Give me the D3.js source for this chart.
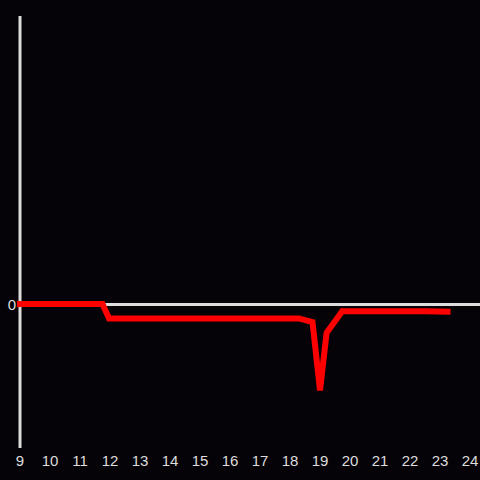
<!DOCTYPE html>
<html><head><meta charset="utf-8">
<script src="https://cdn.jsdelivr.net/npm/d3@7"></script>
<style>html,body{margin:0;padding:0;background:#050308;}svg{display:block;}</style>
</head><body>
<svg id="c" width="480" height="480"></svg>
<script>
const hours = [8.9, 11.75, 11.97, 18.2, 18.3, 18.75, 19.0, 19.22, 19.74, 22.5, 23.35];
const values = [0, 0, -0.1, -0.1, -0.1, -0.125, -0.6, -0.2, -0.05, -0.05, -0.053];
const xTicks = [9,10,11,12,13,14,15,16,17,18,19,20,21,22,23,24];
const yTicks = [0];

const svg = d3.select("#c");
svg.append("rect").attr("width",480).attr("height",480).attr("fill","#050308");
const x = d3.scaleLinear().domain([9,24]).range([20,470]);
const y = d3.scaleLinear().domain([-1,2]).range([448,16]);

svg.append("line").attr("x1",x(9)).attr("x2",x(9)).attr("y1",16).attr("y2",448)
  .attr("stroke","#dddddd").attr("stroke-width",3);
svg.append("line").attr("x1",x(9)).attr("x2",480).attr("y1",y(0)+0.5).attr("y2",y(0)+0.5)
  .attr("stroke","#dddddd").attr("stroke-width",3);

const font = "'Liberation Sans', Arial, sans-serif";
svg.selectAll("text.xt").data(xTicks).enter().append("text")
  .attr("class","xt").attr("x",d=>x(d)).attr("y",466)
  .attr("text-anchor","middle").attr("fill","#dddddd")
  .style("font-family",font).style("font-size","15px").text(d=>d);
svg.selectAll("text.yt").data(yTicks).enter().append("text")
  .attr("class","yt").attr("x",16).attr("y",d=>y(d)+6)
  .attr("text-anchor","end").attr("fill","#dddddd")
  .style("font-family",font).style("font-size","15px").text(d=>d);

const line = d3.line().x(d=>x(d[0])).y(d=>y(d[1]));
svg.append("path").datum(hours.map((h,i)=>[h,values[i]]))
  .attr("d",line).attr("fill","none").attr("stroke","#ff0000").attr("stroke-width",6)
  .attr("stroke-linejoin","miter");
</script>
</body></html>
